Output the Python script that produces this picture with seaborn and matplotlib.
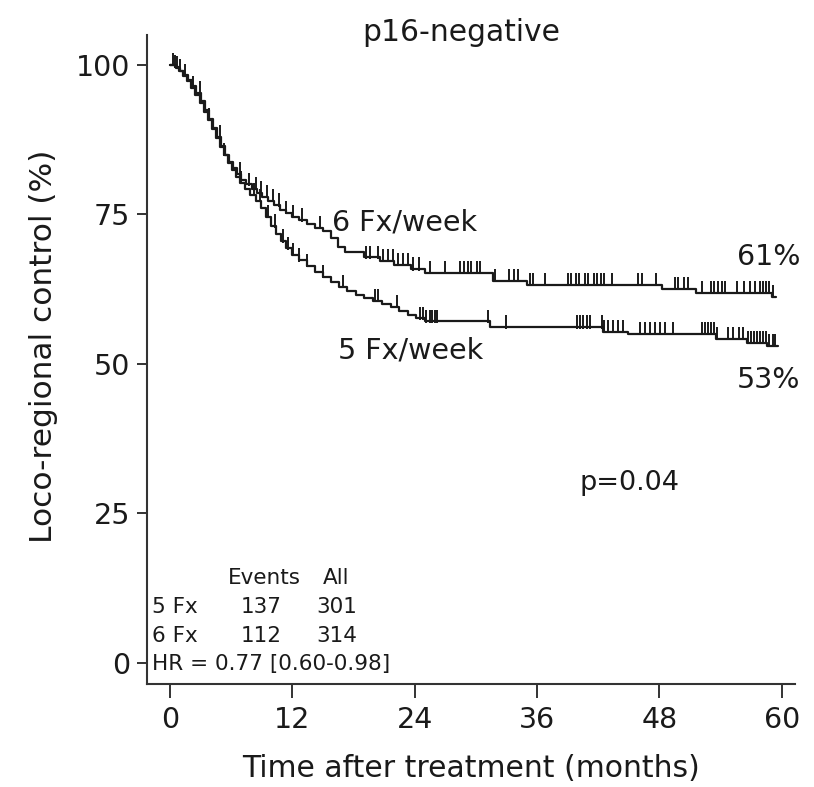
import numpy as np
import pandas as pd
import matplotlib
matplotlib.use("Agg")
import matplotlib.pyplot as plt
import seaborn as sns

# Kaplan-Meier steps: time (months) and loco-regional control (%) after each step
six_time = [0, 0.6, 1.0, 1.4, 1.8, 2.2, 2.6, 3.0, 3.4, 3.8, 4.2, 4.6, 5.0, 5.4, 5.8,
            6.2, 6.6, 7.0, 7.5, 8.0, 8.5, 9.0, 9.6, 10.2, 10.8, 11.4, 12.0, 12.7,
            13.4, 14.2, 15.0, 15.8, 16.5, 17.2, 19.0, 20.6, 22.0, 23.6, 25.0,
            31.7, 35.0, 48.3, 51.6, 59.0, 59.4]
six_surv = [100, 99.5, 99, 98.3, 97.5, 96.5, 95.3, 94, 92.5, 91, 89.5, 88, 86.5, 85,
            83.8, 82.7, 81.7, 80.8, 80, 79.3, 78.6, 77.9, 77.2, 76.5, 75.8, 75.2,
            74.6, 74.0, 73.4, 72.8, 72.2, 71.0, 69.5, 68.7, 67.8, 67.2, 66.5, 65.8,
            65.2, 63.9, 63.2, 62.5, 61.9, 61.2, 61.2]

five_time = [0, 0.5, 0.9, 1.3, 1.7, 2.1, 2.5, 2.9, 3.3, 3.7, 4.1, 4.5, 4.9, 5.3, 5.7,
             6.1, 6.5, 6.9, 7.4, 7.9, 8.4, 8.9, 9.4, 9.9, 10.4, 10.9, 11.4, 12.0,
             12.7, 13.4, 14.2, 15.0, 15.8, 16.6, 17.4, 18.2, 19.0, 19.9, 20.8, 21.7,
             22.5, 23.3, 24.1, 25.0, 31.4, 42.5, 44.9, 53.6, 56.6, 58.6, 59.6]
five_surv = [100, 99.6, 99, 98.2, 97.3, 96.2, 95, 93.6, 92.2, 90.8, 89.3, 87.8, 86.3,
             84.9, 83.6, 82.4, 81.3, 80.3, 79.3, 78.3, 77.2, 76.0, 74.6, 73.0, 71.8,
             70.5, 69.3, 68.2, 67.3, 66.4, 65.4, 64.5, 63.7, 62.9, 62.2, 61.6, 61.1,
             60.6, 60.0, 59.5, 58.9, 58.2, 57.6, 57.1, 56.1, 55.4, 55.0, 54.2, 53.5,
             53.0, 53.0]

# Censoring times (months)
six_cens = [0.3, 0.7, 1.0, 2.9, 4.9, 6.9, 7.8, 8.4, 8.9, 9.5, 10.1, 10.7, 11.4, 12.1,
            13.0, 14.7, 19.2, 19.6, 20.4, 20.9, 21.4, 21.9, 22.4, 22.9, 23.3, 23.8,
            24.4, 25.5, 27.0, 28.4, 28.8, 29.2, 29.5, 30.1, 30.4, 31.9, 33.3, 33.7,
            34.1, 35.3, 35.6, 36.8, 39.0, 39.3, 39.8, 40.1, 40.7, 41.0, 41.6, 41.9,
            42.3, 42.6, 43.4, 45.9, 46.3, 47.7, 49.5, 49.8, 50.4, 50.8, 52.2, 53.1,
            53.4, 53.8, 54.1, 54.4, 55.6, 56.3, 56.9, 57.4, 57.9, 58.2, 58.5, 58.8,
            59.1]
five_cens = [0.5, 1.5, 2.3, 3.8, 5.3, 7.0, 8.2, 8.8, 9.6, 10.3, 11.1, 11.6, 12.1,
             12.7, 13.4, 15.0, 17.0, 20.1, 20.4, 22.3, 24.5, 24.8, 25.1, 25.5, 25.7,
             26.0, 26.2, 31.2, 33.0, 39.9, 40.2, 40.5, 40.9, 41.2, 42.4, 42.6, 43.0,
             43.5, 43.9, 44.4, 46.1, 46.6, 47.1, 47.6, 48.1, 48.6, 49.3, 52.2, 52.5,
             52.8, 53.1, 53.4, 53.7, 54.7, 55.2, 55.8, 56.2, 56.7, 57.0, 57.3, 57.6,
             57.9, 58.2, 58.5, 58.8, 59.1, 59.3]

arm_labels = ["5 Fx", "6 Fx"]
arm_events = [137, 112]
arm_totals = [301, 314]
curve_labels = ["5 Fx/week", "6 Fx/week"]
end_labels = ["53%", "61%"]
hr_text = "HR = 0.77 [0.60-0.98]"
p_text = "p=0.04"

x_ticks = [0, 12, 24, 36, 48, 60]
y_ticks = [0, 25, 50, 75, 100]

sns.set_theme(style="white")
plt.rcParams["font.family"] = ["DejaVu Sans"]

ink = "#1a1a1a"
txt = "#1a1a1a"

fig = plt.figure(figsize=(8.14, 7.87), dpi=100)
ax = fig.add_axes([0.1806, 0.1309, 0.796, 0.8247])

df = pd.concat([
    pd.DataFrame({"month": five_time, "lrc": five_surv, "arm": "5 Fx"}),
    pd.DataFrame({"month": six_time, "lrc": six_surv, "arm": "6 Fx"}),
])
sns.lineplot(data=df, x="month", y="lrc", hue="arm", estimator=None,
             palette={"5 Fx": ink, "6 Fx": ink}, drawstyle="steps-post",
             linewidth=1.6, legend=False, ax=ax)


def surv_at(times, surv, t):
    idx = np.searchsorted(np.asarray(times), np.asarray(t), side="right") - 1
    return np.asarray(surv)[idx]


for tt, ss, cc in [(five_time, five_surv, five_cens), (six_time, six_surv, six_cens)]:
    cv = surv_at(tt, ss, cc)
    ax.vlines(cc, cv - 0.2, cv + 2.0, color=ink, linewidth=1.4)

ax.set_xlim(-2.25, 61.3)
ax.set_ylim(-3.5, 105)
ax.set_xticks(x_ticks)
ax.set_yticks(y_ticks)
ax.tick_params(axis="both", direction="out", bottom=True, left=True,
               colors="#333333", labelcolor=txt, width=1.4, labelsize=20.5)
ax.tick_params(axis="x", length=10, pad=6)
ax.tick_params(axis="y", length=7, pad=5)
sns.despine(ax=ax)
for side in ["left", "bottom"]:
    ax.spines[side].set_color("#333333")
    ax.spines[side].set_linewidth(1.5)

ax.set_xlabel("Time after treatment (months)", fontsize=21.5, color=txt, labelpad=14)
ax.set_ylabel("Loco-regional control (%)", fontsize=22.5, color=txt)
ax.yaxis.set_label_coords(-0.137, 0.521)

fig.text(0.567, 0.959, "p16-negative", fontsize=21.4, ha="center", va="center", color=txt)

# curve annotations
ax.text(15.9, 73.7, curve_labels[1], fontsize=20.5, va="center", color=txt)
ax.text(16.5, 52.3, curve_labels[0], fontsize=20.5, va="center", color=txt)
ax.text(61.8, 67.9, end_labels[1], fontsize=20.5, va="center", ha="right", color=txt)
ax.text(61.8, 47.3, end_labels[0], fontsize=20.5, va="center", ha="right", color=txt)
ax.text(40.2, 30.1, p_text, fontsize=19.5, va="center", color=txt)

# events table
tfs = 15.5
ax.text(5.7, 14.2, "Events", fontsize=tfs, va="center", color=txt)
ax.text(15.0, 14.2, "All", fontsize=tfs, va="center", color=txt)
for row_y, lab, ev, tot in zip([9.4, 4.5], arm_labels, arm_events, arm_totals):
    ax.text(-1.76, row_y, lab, fontsize=tfs, va="center", color=txt)
    ax.text(6.9, row_y, str(ev), fontsize=tfs, va="center", color=txt)
    ax.text(14.4, row_y, str(tot), fontsize=tfs, va="center", color=txt)
ax.text(-1.76, -0.2, hr_text, fontsize=tfs, va="center", color=txt)

fig.savefig("out.png", dpi=100)
